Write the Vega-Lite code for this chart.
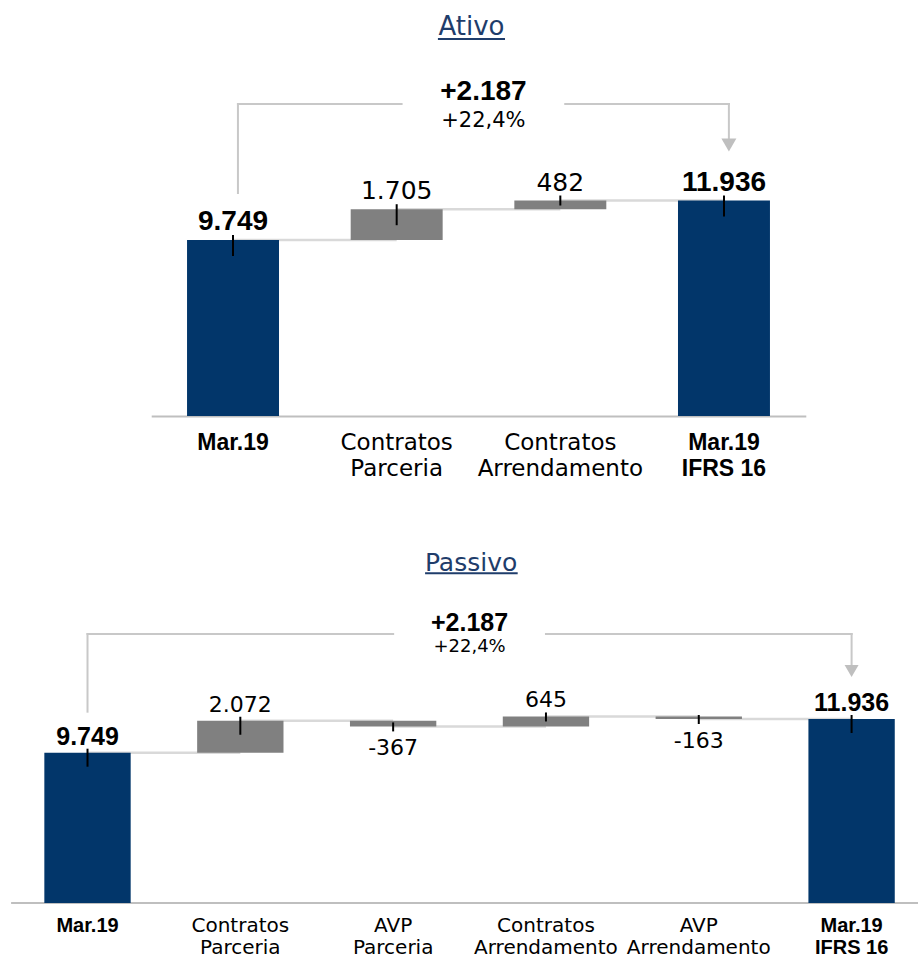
{
  "$schema": "https://vega.github.io/schema/vega-lite/v6.json",
  "padding": 0,
  "background": "white",
  "config": {"view": {"stroke": null}, "text": {"font": "DejaVu Sans"}},
  "spacing": 0,
  "bounds": "flush",
  "vconcat": [
    {
      "width": 918,
      "height": 416,
      "data": {"values": [
        {"cat": "Mar.19", "type": "total", "value": 9749, "start": 0, "end": 9749, "label": "9.749", "next": "Contratos Parceria"},
        {"cat": "Contratos Parceria", "type": "delta", "value": 1705, "start": 9749, "end": 11454, "label": "1.705", "next": "Contratos Arrendamento"},
        {"cat": "Contratos Arrendamento", "type": "delta", "value": 482, "start": 11454, "end": 11936, "label": "482", "next": "Mar.19 IFRS 16"},
        {"cat": "Mar.19 IFRS 16", "type": "total", "value": 11936, "start": 0, "end": 11936, "label": "11.936", "next": null}
      ]},
      "encoding": {
        "x": {
          "field": "cat", "type": "nominal", "title": null,
          "scale": {"domain": ["Mar.19", "Contratos Parceria", "Contratos Arrendamento", "Mar.19 IFRS 16"], "range": [151.2, 805.8], "paddingInner": 0, "paddingOuter": 0},
          "axis": {
            "ticks": false, "grid": false, "domain": true, "domainColor": "#bfbfbf", "domainWidth": 2,
            "labelAngle": 0, "labelPadding": 15, "labelLineHeight": 26, "labelLimit": 300, "labelColor": "#000000", "labelOverlap": false,
            "labelExpr": "datum.value == 'Mar.19 IFRS 16' ? ['Mar.19','IFRS 16'] : split(datum.value, ' ')",
            "labelFont": {"condition": {"test": "indexof(datum.value,'Mar.19')==0", "value": "Liberation Sans"}, "value": "DejaVu Sans"},
            "labelFontWeight": {"condition": {"test": "indexof(datum.value,'Mar.19')==0", "value": "bold"}, "value": "normal"},
            "labelFontSize": 23
          }
        },
        "y": {"field": "end", "type": "quantitative", "scale": {"domain": [0, 23043], "nice": false}, "axis": null}
      },
      "layer": [
        {"transform": [{"filter": "datum.next != null"}], "mark": {"type": "rule", "color": "#d9d9d9", "strokeWidth": 2.5}, "encoding": {"x2": {"field": "next"}}},
        {"mark": {"type": "bar", "width": {"band": 0.562}},
         "encoding": {
           "y": {"field": "start", "type": "quantitative", "scale": {"domain": [0, 23043], "nice": false}, "axis": null},
           "y2": {"field": "end"},
           "color": {"field": "type", "type": "nominal", "scale": {"domain": ["total", "delta"], "range": ["#02366a", "#808080"]}, "legend": null}
         }},
        {"transform": [{"filter": "abs(datum.value) >= 1000"}], "mark": {"type": "rule", "color": "#000000", "strokeWidth": 2, "yOffset": -5, "y2Offset": 16}, "encoding": {"y2": {"field": "end"}}},
        {"transform": [{"filter": "abs(datum.value) < 1000"}], "mark": {"type": "rule", "color": "#000000", "strokeWidth": 2, "yOffset": -5, "y2Offset": 5}, "encoding": {"y2": {"field": "end"}}},
        {"transform": [{"filter": "datum.type == 'total'"}], "mark": {"type": "text", "font": "Liberation Sans", "fontWeight": "bold", "fontSize": 28, "baseline": "alphabetic", "dy": -10, "color": "#000000"}, "encoding": {"text": {"field": "label"}}},
        {"transform": [{"filter": "datum.type == 'delta' && datum.value > 0"}], "mark": {"type": "text", "font": "DejaVu Sans", "fontSize": 25, "baseline": "alphabetic", "dy": -10, "color": "#000000"}, "encoding": {"text": {"field": "label"}}},
        {"transform": [{"filter": "datum.cat == 'Mar.19'"}], "mark": {"type": "text", "text": "Ativo", "font": "DejaVu Sans", "fontSize": 26, "color": "#1f3d6b", "baseline": "alphabetic", "dx": -7},
         "encoding": {"x": {"datum": "Contratos Arrendamento", "type": "nominal", "bandPosition": 0}, "y": {"datum": 21105, "type": "quantitative"}}},
        {"transform": [{"filter": "datum.cat == 'Mar.19'"}], "mark": {"type": "rule", "color": "#1f3d6b", "strokeWidth": 2},
         "encoding": {"x": {"datum": "Contratos Parceria", "type": "nominal", "bandPosition": 0.752}, "x2": {"datum": "Contratos Arrendamento", "bandPosition": 0.162}, "y": {"datum": 20883, "type": "quantitative"}}},
        {"transform": [{"filter": "datum.cat == 'Mar.19'"}], "mark": {"type": "text", "text": "+2.187", "font": "Liberation Sans", "fontWeight": "bold", "fontSize": 28, "color": "#000000", "baseline": "alphabetic"},
         "encoding": {"x": {"datum": "Contratos Arrendamento", "type": "nominal", "bandPosition": 0.03}, "y": {"datum": 17504, "type": "quantitative"}}},
        {"transform": [{"filter": "datum.cat == 'Mar.19'"}], "mark": {"type": "text", "text": "+22,4%", "font": "DejaVu Sans", "fontSize": 21, "color": "#000000", "baseline": "alphabetic"},
         "encoding": {"x": {"datum": "Contratos Arrendamento", "type": "nominal", "bandPosition": 0.03}, "y": {"datum": 16025, "type": "quantitative"}}},
        {"transform": [{"filter": "datum.cat == 'Mar.19'"}], "mark": {"type": "rule", "color": "#c8c8c8", "strokeWidth": 2, "strokeCap": "square"},
         "encoding": {"x": {"datum": "Mar.19", "type": "nominal", "bandPosition": 0.53}, "y": {"datum": 12352, "type": "quantitative"}, "y2": {"datum": 17282}}},
        {"transform": [{"filter": "datum.cat == 'Mar.19'"}], "mark": {"type": "rule", "color": "#c8c8c8", "strokeWidth": 2, "strokeCap": "square"},
         "encoding": {"x": {"datum": "Mar.19", "type": "nominal", "bandPosition": 0.53}, "x2": {"datum": "Contratos Parceria", "bandPosition": 0.53}, "y": {"datum": 17282, "type": "quantitative"}}},
        {"transform": [{"filter": "datum.cat == 'Mar.19'"}], "mark": {"type": "rule", "color": "#c8c8c8", "strokeWidth": 2, "strokeCap": "square"},
         "encoding": {"x": {"datum": "Contratos Arrendamento", "type": "nominal", "bandPosition": 0.53}, "x2": {"datum": "Mar.19 IFRS 16", "bandPosition": 0.53}, "y": {"datum": 17282, "type": "quantitative"}}},
        {"transform": [{"filter": "datum.cat == 'Mar.19'"}], "mark": {"type": "rule", "color": "#c8c8c8", "strokeWidth": 2, "strokeCap": "square"},
         "encoding": {"x": {"datum": "Mar.19 IFRS 16", "type": "nominal", "bandPosition": 0.53}, "y": {"datum": 17282, "type": "quantitative"}, "y2": {"datum": 15344}}},
        {"transform": [{"filter": "datum.cat == 'Mar.19'"}], "mark": {"type": "point", "shape": "triangle-down", "size": 225, "filled": true, "color": "#bfbfbf", "opacity": 1},
         "encoding": {"x": {"datum": "Mar.19 IFRS 16", "type": "nominal", "bandPosition": 0.53}, "y": {"datum": 15011, "type": "quantitative"}}}
      ]
    },
    {
      "width": 918,
      "height": 487,
      "data": {"values": [
        {"cat": "Mar.19", "type": "total", "value": 9749, "start": 0, "end": 9749, "label": "9.749", "next": "Contratos Parceria"},
        {"cat": "Contratos Parceria", "type": "delta", "value": 2072, "start": 9749, "end": 11821, "label": "2.072", "next": "AVP Parceria"},
        {"cat": "AVP Parceria", "type": "delta", "value": -367, "start": 11821, "end": 11454, "label": "-367", "next": "Contratos Arrendamento"},
        {"cat": "Contratos Arrendamento", "type": "delta", "value": 645, "start": 11454, "end": 12099, "label": "645", "next": "AVP Arrendamento"},
        {"cat": "AVP Arrendamento", "type": "delta", "value": -163, "start": 12099, "end": 11936, "label": "-163", "next": "Mar.19 IFRS 16"},
        {"cat": "Mar.19 IFRS 16", "type": "total", "value": 11936, "start": 0, "end": 11936, "label": "11.936", "next": null}
      ]},
      "encoding": {
        "x": {
          "field": "cat", "type": "nominal", "title": null,
          "scale": {"domain": ["Mar.19", "Contratos Parceria", "AVP Parceria", "Contratos Arrendamento", "AVP Arrendamento", "Mar.19 IFRS 16"], "range": [11.1, 928], "paddingInner": 0, "paddingOuter": 0},
          "axis": {
            "ticks": false, "grid": false, "domain": false,
            "labelAngle": 0, "labelPadding": 12, "labelLineHeight": 22, "labelLimit": 300, "labelColor": "#000000", "labelOverlap": false,
            "labelExpr": "datum.value == 'Mar.19 IFRS 16' ? ['Mar.19','IFRS 16'] : split(datum.value, ' ')",
            "labelFont": {"condition": {"test": "indexof(datum.value,'Mar.19')==0", "value": "Liberation Sans"}, "value": "DejaVu Sans"},
            "labelFontWeight": {"condition": {"test": "indexof(datum.value,'Mar.19')==0", "value": "bold"}, "value": "normal"},
            "labelFontSize": 20
          }
        },
        "y": {"field": "end", "type": "quantitative", "scale": {"domain": [0, 31588], "nice": false}, "axis": null}
      },
      "layer": [
        {"transform": [{"filter": "datum.cat == 'Mar.19'"}], "mark": {"type": "rule", "color": "#bfbfbf", "strokeWidth": 2},
         "encoding": {"x": {"datum": "Mar.19", "type": "nominal", "bandPosition": 0}, "x2": {"datum": "Mar.19 IFRS 16", "bandPosition": 0.935}, "y": {"datum": 0, "type": "quantitative"}}},
        {"transform": [{"filter": "datum.next != null"}], "mark": {"type": "rule", "color": "#d9d9d9", "strokeWidth": 2.5}, "encoding": {"x2": {"field": "next"}}},
        {"mark": {"type": "bar", "width": {"band": 0.565}},
         "encoding": {
           "y": {"field": "start", "type": "quantitative", "scale": {"domain": [0, 31588], "nice": false}, "axis": null},
           "y2": {"field": "end"},
           "color": {"field": "type", "type": "nominal", "scale": {"domain": ["total", "delta"], "range": ["#02366a", "#808080"]}, "legend": null}
         }},
        {"transform": [{"filter": "abs(datum.value) >= 1000"}], "mark": {"type": "rule", "color": "#000000", "strokeWidth": 2, "yOffset": -4, "y2Offset": 14}, "encoding": {"y2": {"field": "end"}}},
        {"transform": [{"filter": "abs(datum.value) < 1000"}], "mark": {"type": "rule", "color": "#000000", "strokeWidth": 2, "yOffset": -4, "y2Offset": 5}, "encoding": {"y2": {"field": "end"}}},
        {"transform": [{"filter": "datum.type == 'total'"}], "mark": {"type": "text", "font": "Liberation Sans", "fontWeight": "bold", "fontSize": 25, "baseline": "alphabetic", "dy": -8, "color": "#000000"}, "encoding": {"text": {"field": "label"}}},
        {"transform": [{"filter": "datum.type == 'delta' && datum.value > 0"}], "mark": {"type": "text", "font": "DejaVu Sans", "fontSize": 22, "baseline": "alphabetic", "dy": -9, "color": "#000000"}, "encoding": {"text": {"field": "label"}}},
        {"transform": [{"filter": "datum.type == 'delta' && datum.value < 0"}], "mark": {"type": "text", "font": "DejaVu Sans", "fontSize": 22, "baseline": "top", "dy": 12, "color": "#000000"}, "encoding": {"text": {"field": "label"}}},
        {"transform": [{"filter": "datum.cat == 'Mar.19'"}], "mark": {"type": "text", "text": "Passivo", "font": "DejaVu Sans", "fontSize": 25, "color": "#1f3d6b", "baseline": "alphabetic", "dx": 1.5},
         "encoding": {"x": {"datum": "Contratos Arrendamento", "type": "nominal", "bandPosition": 0}, "y": {"datum": 21554, "type": "quantitative"}}},
        {"transform": [{"filter": "datum.cat == 'Mar.19'"}], "mark": {"type": "rule", "color": "#1f3d6b", "strokeWidth": 2},
         "encoding": {"x": {"datum": "AVP Parceria", "type": "nominal", "bandPosition": 0.709}, "x2": {"datum": "Contratos Arrendamento", "bandPosition": 0.315}, "y": {"datum": 21385, "type": "quantitative"}}},
        {"transform": [{"filter": "datum.cat == 'Mar.19'"}], "mark": {"type": "text", "text": "+2.187", "font": "Liberation Sans", "fontWeight": "bold", "fontSize": 25, "color": "#000000", "baseline": "alphabetic"},
         "encoding": {"x": {"datum": "Contratos Arrendamento", "type": "nominal", "bandPosition": 0}, "y": {"datum": 17661, "type": "quantitative"}}},
        {"transform": [{"filter": "datum.cat == 'Mar.19'"}], "mark": {"type": "text", "text": "+22,4%", "font": "DejaVu Sans", "fontSize": 18, "color": "#000000", "baseline": "alphabetic"},
         "encoding": {"x": {"datum": "Contratos Arrendamento", "type": "nominal", "bandPosition": 0}, "y": {"datum": 16300, "type": "quantitative"}}},
        {"transform": [{"filter": "datum.cat == 'Mar.19'"}], "mark": {"type": "rule", "color": "#c8c8c8", "strokeWidth": 2, "strokeCap": "square"},
         "encoding": {"x": {"datum": "Mar.19", "type": "nominal", "bandPosition": 0.5}, "y": {"datum": 12410, "type": "quantitative"}, "y2": {"datum": 17448}}},
        {"transform": [{"filter": "datum.cat == 'Mar.19'"}], "mark": {"type": "rule", "color": "#c8c8c8", "strokeWidth": 2, "strokeCap": "square"},
         "encoding": {"x": {"datum": "Mar.19", "type": "nominal", "bandPosition": 0.5}, "x2": {"datum": "AVP Parceria", "bandPosition": 0.5}, "y": {"datum": 17448, "type": "quantitative"}}},
        {"transform": [{"filter": "datum.cat == 'Mar.19'"}], "mark": {"type": "rule", "color": "#c8c8c8", "strokeWidth": 2, "strokeCap": "square"},
         "encoding": {"x": {"datum": "Contratos Arrendamento", "type": "nominal", "bandPosition": 0.5}, "x2": {"datum": "Mar.19 IFRS 16", "bandPosition": 0.5}, "y": {"datum": 17448, "type": "quantitative"}}},
        {"transform": [{"filter": "datum.cat == 'Mar.19'"}], "mark": {"type": "rule", "color": "#c8c8c8", "strokeWidth": 2, "strokeCap": "square"},
         "encoding": {"x": {"datum": "Mar.19 IFRS 16", "type": "nominal", "bandPosition": 0.5}, "y": {"datum": 17448, "type": "quantitative"}, "y2": {"datum": 15373}}},
        {"transform": [{"filter": "datum.cat == 'Mar.19'"}], "mark": {"type": "point", "shape": "triangle-down", "size": 196, "filled": true, "color": "#bfbfbf", "opacity": 1},
         "encoding": {"x": {"datum": "Mar.19 IFRS 16", "type": "nominal", "bandPosition": 0.5}, "y": {"datum": 15048, "type": "quantitative"}}}
      ]
    }
  ]
}
